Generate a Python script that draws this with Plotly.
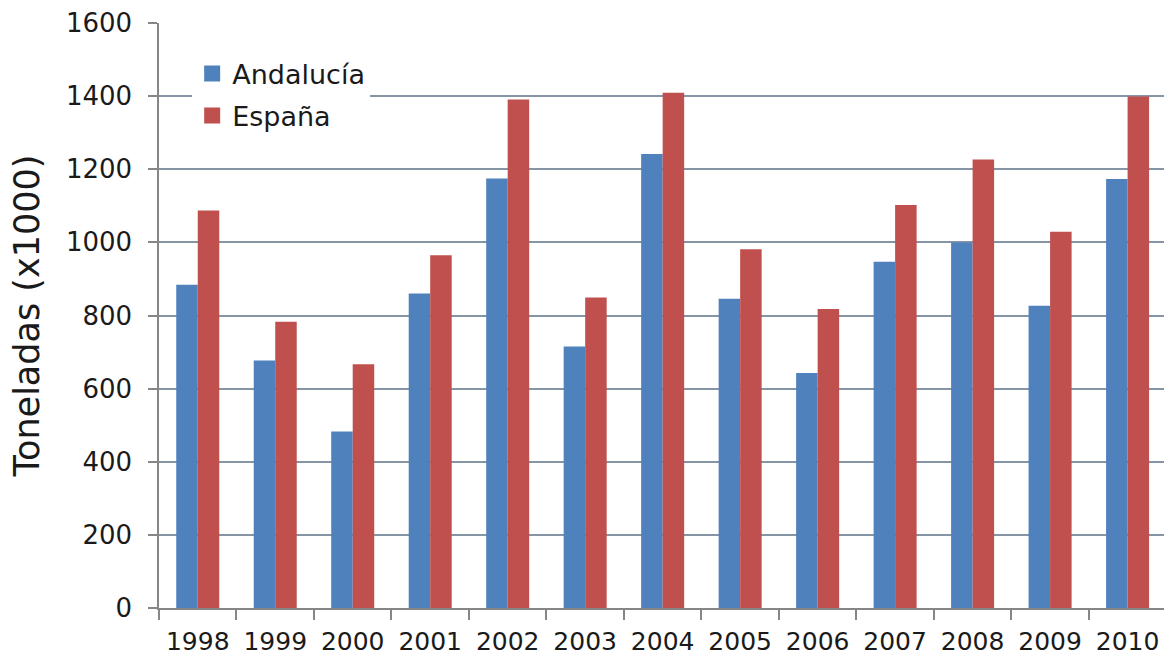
import plotly.graph_objects as go

years = ["1998", "1999", "2000", "2001", "2002", "2003", "2004",
         "2005", "2006", "2007", "2008", "2009", "2010"]
andalucia = [884, 677, 483, 860, 1175, 715, 1242, 846, 643, 947, 1000, 827, 1173]
espana = [1087, 783, 667, 965, 1391, 849, 1409, 981, 818, 1102, 1227, 1029, 1399]
y_ticks = [0, 200, 400, 600, 800, 1000, 1200, 1400, 1600]

BLUE = "#4F81BD"
RED = "#C0504D"
FONT = "Verdana, DejaVu Sans, sans-serif"

fig = go.Figure()
fig.add_trace(go.Bar(x=years, y=andalucia, name="Andalucía",
                     marker=dict(color=BLUE, line=dict(width=0)), showlegend=False))
fig.add_trace(go.Bar(x=years, y=espana, name="España",
                     marker=dict(color=RED, line=dict(width=0)), showlegend=False))
# legend entries with larger square markers
fig.add_trace(go.Scatter(x=[None], y=[None], mode="markers", name="Andalucía",
                         legendgroup="a",
                         marker=dict(symbol="square", size=18, color=BLUE)))
fig.add_trace(go.Scatter(x=[None], y=[None], mode="markers", name="España",
                         legendgroup="b",
                         marker=dict(symbol="square", size=18, color=RED)))

fig.update_layout(
    width=1164, height=655,
    margin=dict(l=159, r=0, t=23, b=47, autoexpand=False),
    paper_bgcolor="white", plot_bgcolor="white",
    barmode="group", bargap=0.445, bargroupgap=0,
    font=dict(family=FONT, color="#1a1a1a", size=26),
    legend=dict(x=0.033, y=0.955, xanchor="left", yanchor="top",
                bgcolor="white", font=dict(size=27, family=FONT, color="#1a1a1a"),
                itemsizing="trace", tracegroupgap=4, itemwidth=30),
    xaxis=dict(
        type="category", categoryorder="array", categoryarray=years,
        range=[-0.5, 12.47],
        showline=True, linecolor="#868686", linewidth=1.5,
        ticks="outside", ticklen=10, tickcolor="#868686", tickwidth=1.5,
        tickson="boundaries", showgrid=False,
        tickfont=dict(size=25, family=FONT, color="#1a1a1a"),
        ticklabelstandoff=10,
    ),
    yaxis=dict(
        range=[0, 1600], tickvals=y_ticks,
        showline=True, linecolor="#868686", linewidth=1.5,
        ticks="outside", ticklen=9, tickcolor="#868686", tickwidth=1.5,
        showgrid=True, gridcolor="#8595a5", gridwidth=1.5,
        zeroline=False,
        tickfont=dict(size=26, family=FONT, color="#1a1a1a"),
        ticklabelstandoff=11,
        title=dict(text="Toneladas (x1000)", font=dict(size=35, family=FONT, color="#1a1a1a"),
                   standoff=16),
    ),
)

fig.write_html("out.html", config={"displayModeBar": False},
               post_script="document.body.style.margin='0';")
